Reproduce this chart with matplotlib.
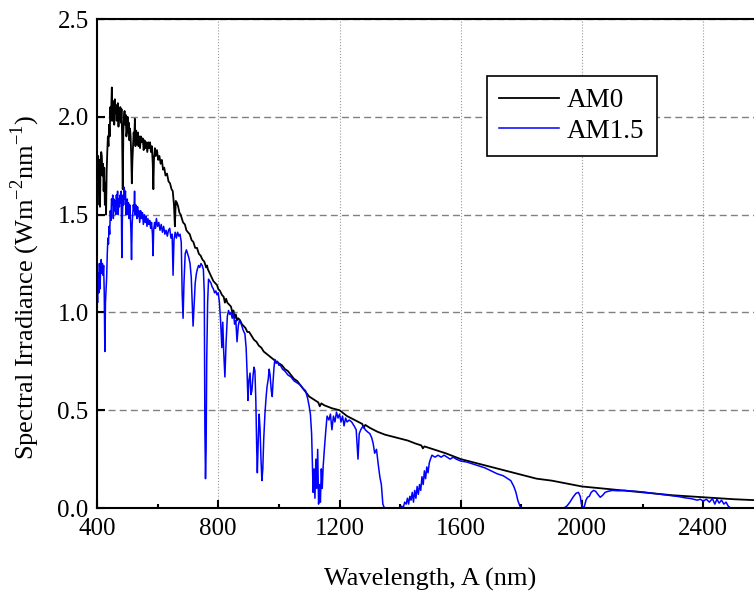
import matplotlib
matplotlib.use("Agg")
import matplotlib.pyplot as plt
from matplotlib.ticker import MultipleLocator, FormatStrFormatter

# --- spectral data (nm, W m^-2 nm^-1) ---
am0_wl = [400, 402, 404, 406, 408, 410, 412, 414, 416, 418, 420, 422, 424, 426, 428, 430,
          432, 434, 436, 438, 440, 442, 444, 446, 448, 449, 451, 453, 455, 457, 459, 461,
          463, 465, 467, 469, 471, 473, 475, 477, 479, 481, 483, 485, 487, 489, 491, 493,
          495, 497, 499, 501, 503, 505, 507, 509, 511, 513, 515, 517, 519, 521, 523, 525,
          527, 529, 531, 533, 535, 537, 539, 542, 545, 548, 551, 554, 557, 560, 563, 566,
          569, 572, 575, 578, 581, 584, 586, 588, 591, 594, 598, 602, 606, 610, 614, 618,
          622, 626, 631, 636, 641, 646, 650, 654, 657, 660, 664, 668, 672, 676, 680, 684,
          690, 695, 700, 706, 712, 718, 724, 730, 736, 742, 748, 754, 760, 763, 766, 772,
          778, 784, 790, 796, 800, 806, 812, 818, 822, 826, 830, 836, 842, 848, 850, 854,
          858, 862, 866, 872, 878, 884, 890, 896, 902, 910, 918, 926, 934, 942, 950, 958,
          966, 974, 982, 990, 1000, 1010, 1020, 1030, 1040, 1050, 1060, 1070, 1080, 1090,
          1100, 1115, 1130, 1135, 1140, 1150, 1175, 1200, 1225, 1250, 1275, 1280, 1285, 1300,
          1325, 1350, 1375, 1400, 1425, 1450, 1470, 1475, 1480, 1500, 1550, 1600, 1650, 1700,
          1750, 1800, 1850, 1900, 1950, 2000, 2100, 2200, 2300, 2400, 2500, 2600]
am0_val = [1.72, 1.55, 1.80, 1.65, 1.78, 1.54, 1.75, 1.82, 1.80, 1.70, 1.76, 1.62, 1.74, 1.55, 1.66, 1.50,
           1.72, 1.82, 1.90, 1.85, 1.96, 1.90, 2.05, 1.98, 2.10, 2.15, 1.98, 2.02, 2.08, 1.96, 2.09, 2.02,
           2.06, 1.98, 2.04, 2.07, 1.95, 2.03, 2.00, 2.05, 1.97, 2.04, 1.90, 1.63, 1.92, 2.00, 2.03, 1.96,
           2.01, 1.90, 1.93, 2.00, 1.92, 1.97, 1.88, 1.94, 1.90, 1.80, 1.66, 1.78, 1.85, 1.92, 1.88, 1.99,
           1.85, 1.93, 1.90, 1.86, 1.92, 1.85, 1.90, 1.84, 1.90, 1.87, 1.89, 1.83, 1.88, 1.84, 1.87, 1.82,
           1.87, 1.84, 1.87, 1.82, 1.85, 1.76, 1.63, 1.78, 1.84, 1.80, 1.83, 1.78, 1.80, 1.76, 1.78, 1.73,
           1.74, 1.70, 1.71, 1.67, 1.66, 1.63, 1.62, 1.55, 1.44, 1.57, 1.56, 1.54, 1.51, 1.50, 1.48, 1.46,
           1.45, 1.42, 1.41, 1.40, 1.37, 1.36, 1.33, 1.33, 1.30, 1.29, 1.27, 1.26, 1.23, 1.24, 1.22, 1.20,
           1.18, 1.16, 1.15, 1.14, 1.12, 1.11, 1.09, 1.08, 1.05, 1.07, 1.05, 1.04, 1.03, 0.99, 1.01, 0.97,
           0.99, 0.96, 0.97, 0.96, 0.94, 0.93, 0.92, 0.90, 0.90, 0.88, 0.86, 0.85, 0.83, 0.82, 0.80, 0.79,
           0.78, 0.77, 0.76, 0.75, 0.74, 0.73, 0.71, 0.70, 0.68, 0.66, 0.65, 0.63, 0.61, 0.59,
           0.57, 0.555, 0.54, 0.52, 0.535, 0.525, 0.51, 0.50, 0.47, 0.45, 0.43, 0.41, 0.425, 0.41,
           0.39, 0.375, 0.365, 0.355, 0.345, 0.33, 0.32, 0.305, 0.315, 0.305, 0.28, 0.25, 0.23, 0.21,
           0.19, 0.17, 0.15, 0.14, 0.125, 0.11, 0.095, 0.08, 0.065, 0.055, 0.045, 0.038]

am15_wl = [400, 402, 404, 406, 408, 410, 412, 414, 416, 418, 420, 422, 424, 426, 428, 430,
           432, 434, 436, 438, 440, 442, 444, 446, 448, 450, 452, 454, 456, 458, 460, 462,
           464, 466, 468, 470, 472, 474, 476, 478, 480, 482, 484, 486, 488, 490, 492, 494,
           496, 498, 500, 502, 504, 506, 508, 510, 512, 514, 516, 518, 520, 522, 524, 526,
           528, 530, 532, 534, 536, 538, 541, 544, 547, 550, 553, 556, 559, 562, 565, 568,
           571, 574, 577, 580, 583, 585, 587, 590, 593, 596, 600, 604, 608, 612, 616, 620,
           624, 628, 632, 636, 640, 644, 648, 651, 654, 658, 662, 666, 670, 674, 678, 681,
           684, 687, 691, 695, 699, 703, 707, 711, 714, 717, 720, 724, 728, 731, 735, 739,
           743, 747, 751, 754, 756, 758, 760, 762, 765, 768, 772, 776, 780, 784, 788, 792,
           796, 800, 804, 808, 812, 815, 818, 822, 826, 830, 834, 838, 842, 846, 850, 854,
           858, 862, 866, 870, 876, 882, 888, 892, 895, 898, 901, 905, 908, 911, 915, 918,
           921, 924, 927, 929, 932, 935, 938, 941, 944, 947, 950, 954, 958, 961, 965, 968,
           971, 975, 978, 981, 984, 987, 991, 995, 1000, 1005, 1012, 1020, 1030, 1040, 1050, 1060,
           1070, 1080, 1088, 1095, 1100, 1104, 1108, 1111, 1113, 1116, 1119, 1122, 1125, 1128, 1131, 1134,
           1137, 1140, 1143, 1146, 1150, 1155, 1159, 1165, 1170, 1175, 1180, 1185, 1190, 1195, 1200, 1205,
           1210, 1215, 1220, 1225, 1232, 1240, 1248, 1255, 1261, 1265, 1270, 1278, 1285, 1292, 1300, 1306,
           1311, 1316, 1322, 1328, 1333, 1338, 1343, 1348, 1400, 1405, 1410, 1415, 1420, 1424, 1428, 1432,
           1436, 1440, 1444, 1448, 1452, 1456, 1460, 1464, 1468, 1472, 1476, 1480, 1484, 1488, 1492, 1496,
           1500, 1505, 1515, 1525, 1535, 1545, 1555, 1565, 1575, 1585, 1600, 1620, 1640, 1660, 1680, 1700,
           1720, 1740, 1755, 1765, 1775, 1782, 1788, 1795, 1800, 1940, 1950, 1960, 1970, 1980, 1988, 1994,
           1998, 2003, 2008, 2013, 2018, 2024, 2030, 2038, 2045, 2052, 2060, 2068, 2076, 2085, 2100, 2120,
           2140, 2160, 2180, 2200, 2220, 2240, 2260, 2280, 2300, 2320, 2340, 2360, 2380, 2390, 2400, 2410,
           2420, 2430, 2438, 2445, 2452, 2460, 2468, 2475, 2482, 2490, 2600]
am15_val = [1.15, 1.05, 1.20, 1.10, 1.25, 1.12, 1.22, 1.27, 1.20, 1.25, 1.19, 1.24, 1.10, 0.80, 1.05, 1.12,
            1.18, 1.30, 1.38, 1.35, 1.44, 1.40, 1.52, 1.47, 1.58, 1.55, 1.60, 1.48, 1.58, 1.52, 1.57, 1.50,
            1.60, 1.55, 1.62, 1.50, 1.58, 1.54, 1.60, 1.56, 1.62, 1.28, 1.50, 1.60, 1.55, 1.64, 1.58, 1.62,
            1.50, 1.55, 1.58, 1.50, 1.56, 1.48, 1.55, 1.50, 1.42, 1.27, 1.45, 1.50, 1.55, 1.52, 1.62, 1.50,
            1.55, 1.52, 1.48, 1.54, 1.49, 1.52, 1.46, 1.52, 1.48, 1.51, 1.45, 1.50, 1.46, 1.49, 1.44, 1.48,
            1.45, 1.47, 1.43, 1.46, 1.40, 1.29, 1.42, 1.46, 1.43, 1.48, 1.44, 1.46, 1.42, 1.45, 1.41, 1.44,
            1.40, 1.42, 1.39, 1.42, 1.43, 1.38, 1.40, 1.19, 1.37, 1.41, 1.38, 1.41, 1.39, 1.40, 1.36, 1.10,
            0.97, 1.15, 1.30, 1.32, 1.30, 1.28, 1.25, 1.18, 1.05, 0.93, 1.02, 1.15, 1.20, 1.22, 1.24, 1.23,
            1.25, 1.24, 1.22, 1.10, 0.40, 0.15, 0.30, 0.75, 1.05, 1.17, 1.16, 1.15, 1.13, 1.12, 1.10, 1.11,
            1.09, 1.10, 1.05, 0.95, 0.82, 0.95, 0.80, 0.67, 0.85, 0.98, 1.01, 0.99, 1.00, 0.97, 1.00, 0.94,
            0.96, 0.85, 0.93, 0.96, 0.94, 0.91, 0.89, 0.82, 0.70, 0.55, 0.65, 0.69, 0.58, 0.60, 0.68, 0.72,
            0.70, 0.55, 0.30, 0.18, 0.35, 0.48, 0.40, 0.25, 0.14, 0.20, 0.35, 0.48, 0.57, 0.62, 0.66, 0.71,
            0.68, 0.60, 0.57, 0.65, 0.72, 0.76, 0.74, 0.75, 0.73, 0.73, 0.71, 0.70, 0.68, 0.67, 0.65, 0.64,
            0.63, 0.61, 0.60, 0.56, 0.52, 0.48, 0.38, 0.20, 0.08, 0.20, 0.05, 0.25, 0.10, 0.30, 0.02, 0.12,
            0.03, 0.20, 0.10, 0.21, 0.30, 0.40, 0.47, 0.45, 0.48, 0.40, 0.47, 0.44, 0.49, 0.46, 0.48, 0.44,
            0.47, 0.42, 0.46, 0.44, 0.45, 0.44, 0.42, 0.40, 0.25, 0.38, 0.40, 0.42, 0.40, 0.39, 0.38, 0.36,
            0.33, 0.28, 0.30, 0.22, 0.16, 0.12, 0.02, 0.0, 0.0, 0.01, 0.0, 0.03, 0.02, 0.05, 0.02, 0.06,
            0.04, 0.08, 0.03, 0.09, 0.05, 0.11, 0.07, 0.12, 0.09, 0.16, 0.12, 0.19, 0.15, 0.21, 0.18, 0.23,
            0.25, 0.27, 0.26, 0.27, 0.26, 0.27, 0.26, 0.25, 0.26, 0.25, 0.24, 0.235, 0.225, 0.215, 0.205, 0.19,
            0.175, 0.165, 0.15, 0.14, 0.11, 0.08, 0.04, 0.01, 0.0, 0.0, 0.01, 0.03, 0.055, 0.075, 0.08, 0.06,
            0.02, 0.0, 0.01, 0.04, 0.055, 0.06, 0.08, 0.09, 0.085, 0.07, 0.055, 0.065, 0.08, 0.085, 0.09, 0.088,
            0.09, 0.087, 0.085, 0.082, 0.078, 0.074, 0.07, 0.066, 0.062, 0.058, 0.052, 0.048, 0.04, 0.045, 0.035, 0.045,
            0.03, 0.048, 0.02, 0.045, 0.025, 0.04, 0.02, 0.03, 0.01, 0.0, 0.0]

plt.rcParams["font.family"] = ["Liberation Serif", "DejaVu Serif"]
plt.rcParams["mathtext.fontset"] = "custom"
plt.rcParams["mathtext.rm"] = "Liberation Serif"

fig = plt.figure(figsize=(7.54, 5.95), dpi=100)
# right edge of the axes runs past the figure, so the plot is cut at 2570 nm
ax = fig.add_axes([0.1286, 0.1462, 0.8846, 0.8218])

ax.plot(am0_wl, am0_val, color="black", lw=1.3, label="AM0")
ax.plot(am15_wl, am15_val, color="blue", lw=1.1, label="AM1.5")

ax.set_xlim(400, 2600)
ax.set_ylim(0, 2.5)
ax.xaxis.set_major_locator(MultipleLocator(400))
ax.xaxis.set_minor_locator(MultipleLocator(200))
ax.yaxis.set_major_locator(MultipleLocator(0.5))
ax.yaxis.set_major_formatter(FormatStrFormatter("%.1f"))

ax.grid(axis="x", which="major", linestyle=":", color="#999999", lw=0.8)
ax.grid(axis="y", which="major", linestyle=(0, (5, 3)), color="#808080", lw=1.0)
ax.set_axisbelow(True)

ax.tick_params(which="both", direction="in", width=1.5, labelsize=18)
ax.tick_params(which="major", length=6)
ax.tick_params(which="minor", length=3)
ax.tick_params(axis="x", pad=7)
ax.tick_params(axis="y", pad=6)
for s in ax.spines.values():
    s.set_linewidth(1.5)

ax.set_xlabel("Wavelength, A (nm)", fontsize=19, labelpad=20)
ax.set_ylabel("Spectral Irradiance (Wm$^{-2}$nm$^{-1}$)", fontsize=19)
ax.yaxis.set_label_coords(-0.082, 0.452)

leg = ax.legend(loc="upper left", bbox_to_anchor=(0.585, 0.883), fontsize=19.5,
                frameon=True, fancybox=False, framealpha=1, edgecolor="black",
                handlelength=2.2, handletextpad=0.3, labelspacing=0.2,
                borderpad=0.45, borderaxespad=0)
leg.get_frame().set_linewidth(1.2)

fig.savefig("out.png", dpi=100)
